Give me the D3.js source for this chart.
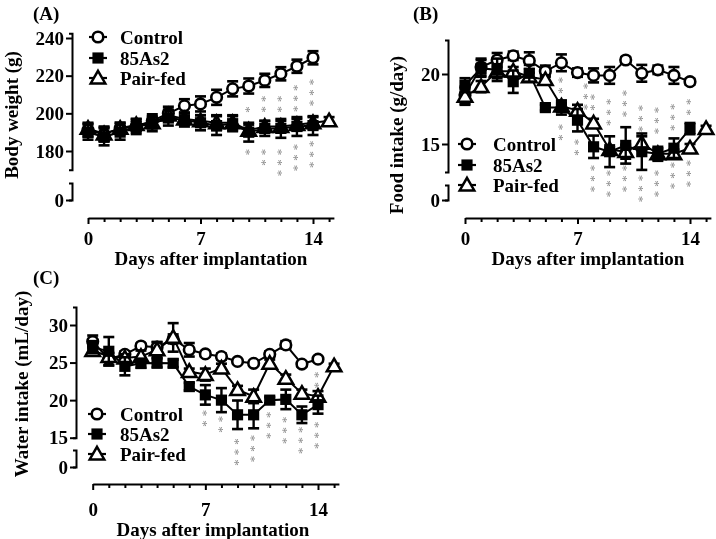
<!DOCTYPE html>
<html><head><meta charset="utf-8">
<script src="https://cdn.jsdelivr.net/npm/d3@7"></script>
<style>
body{margin:0;background:#fff}
svg{display:block;will-change:transform}
text{font-family:"Liberation Serif","Times New Roman",serif;font-weight:bold;fill:#000}
</style>
</head><body>
<svg id="chart" width="716" height="539"></svg>
<script>
// ---------- DATA ----------
const seriesNames = ["Control", "85As2", "Pair-fed"];
const xTickLabels = [0, 7, 14];
const xTickDays = [0,1,2,3,4,5,6,7,8,9,10,11,12,13,14,15];

// (A) Body weight (g)
const bwControl    = [191,189,192,193,196,200,204,205,208.5,213,214.5,217.5,221,225,229.5];
const bwControlErr = [3.5,3.5,3,3,3.5,3.5,3.5,4,4,4,4,3.5,3.5,3.5,3.5];
const bw85As2      = [190,187.5,190,193,194.5,197.5,196.5,195,193.5,194.5,190,192,192,193,193.5];
const bw85As2Err   = [4,4.5,4,4,4,4,3.5,4,5,4,5,4,5,5,5];
const bwPairFed    = [192,189,192,194,195,199,197,196,195,195,191,193,193,194,195,196];
const bwPairFedErr = [3,4,3,3,3,3,3,3,4,4,3,3,3,3,3,2];
const bwTicks = [180,200,220,240];
const bwStarsDay   = [10,10,11,11,12,12,13,13,14,14];
const bwStarsTop   = [202,179.5,207.8,179.5,207.8,179.5,213.6,182.1,216.6,183.9];
const bwStarsCount = [1,1,2,2,2,3,3,3,3,3];

// (B) Food intake (g/day)
const fiControl    = [18.5,20.5,21,21.3,20.95,20.2,20.8,20.1,19.9,19.9,21,20.05,20.3,19.9,19.45];
const fiControlErr = [0.6,0.6,0.5,0.3,0.6,0.4,0.6,0.3,0.5,0.6,0.2,0.6,0.3,0.6,0.2];
const fi85As2      = [19.2,20.4,20.3,19.45,20.05,17.6,17.6,16.7,14.8,14.45,14.9,14.45,14.3,14.7,16.1];
const fi85As2Err   = [0.5,0.6,0.8,0.8,0.6,0.2,0.5,0.8,0.8,1.1,1.3,1.3,0.5,0.7,0.4];
const fiPairFed    = [18.4,19.1,20.2,20.2,19.8,19.6,17.7,17.4,16.5,14.6,14.45,15.05,14.3,14.3,14.7,16.1];
const fiPairFedErr = [0.6,0.4,0.5,0.3,0.3,0.3,0.4,0.4,0.3,0.3,0.5,0.5,0.4,0.3,0.3,0.2];
const fiTicks = [15,20];
const fiStarsDay   = [6,6,7,7.55,8,8,9,9,10,10,11,11,12,12,13,13,14,14];
const fiStarsTop   = [19.57,16.21,15.14,19.14,18.36,13.29,18.02,12.93,18.64,13.29,17.57,12.57,17.43,12.93,17.66,13.5,18.02,13.64];
const fiStarsCount = [2,2,2,3,2,3,3,3,3,3,3,3,3,3,3,3,2,3];

// (C) Water intake (mL/day)
const wiControl    = [27.8,25.45,26.1,27.2,27.05,28.15,26.7,26.15,25.8,25.15,24.9,26.1,27.35,24.8,25.45];
const wiControlErr = [0.8,0.8,0.4,0.3,0.7,0.6,0.9,0.3,0.4,0.3,0.3,0.4,0.5,0.3,0.3];
const wi85As2      = [27.05,26.5,24.5,24.9,24.95,24.9,21.8,20.7,20.0,18.05,18.05,20.0,20.1,18.05,19.4];
const wi85As2Err   = [0.8,1.9,1.2,0.6,0.6,0.5,0.5,1.3,1.6,1.9,1.8,0.4,1.3,1.1,1.2];
const wiPairFed    = [26.6,25.8,25.6,25.8,26.7,28.35,23.8,23.4,24.25,21.4,20.5,24.9,22.9,20.9,20.5,24.55];
const wiPairFedErr = [0.6,0.5,0.5,0.8,1,1.9,0.4,0.8,0.6,0.5,0.9,0.5,0.5,0.5,0.7,0.3];
const wiTicks = [15,20,25,30];
const wiStarsDay   = [7,8,9,10,11,12,13,14,14];
const wiStarsTop   = [18.28,17.48,14.51,14.96,18.05,17.39,16.06,23.37,16.73];
const wiStarsCount = [2,2,3,3,3,3,3,2,3];

// ---------- DRAWING ----------
const svg = d3.select("#chart");

const panels = [
  { label:"(A)", labelPos:[33,20], yTitle:"Body weight (g)", yTitlePos:[18,115],
    xRange:[88,313], yDomain:[180,240], yRange:[151,38], yAxisX:72, yTop:242.5, yBottom:170,
    zeroSeg:[183,200], xAxisY:218, xLabelBase:245, xTitlePos:[211,265],
    ticks:bwTicks, ctrl:bwControl, ctrlE:bwControlErr, as2:bw85As2, as2E:bw85As2Err, pf:bwPairFed, pfE:bwPairFedErr,
    sDay:bwStarsDay, sTop:bwStarsTop, sCount:bwStarsCount,
    legend:{sx:98, tx:120, ys:[37,58,78]} },
  { label:"(B)", labelPos:[413,20], yTitle:"Food intake (g/day)", yTitlePos:[403,135],
    xRange:[465,690], yDomain:[15,20], yRange:[144,74], yAxisX:448, yTop:22.43, yBottom:13,
    zeroSeg:[185,200], xAxisY:218, xLabelBase:245, xTitlePos:[588,265],
    ticks:fiTicks, ctrl:fiControl, ctrlE:fiControlErr, as2:fi85As2, as2E:fi85As2Err, pf:fiPairFed, pfE:fiPairFedErr,
    sDay:fiStarsDay, sTop:fiStarsTop, sCount:fiStarsCount,
    legend:{sx:467, tx:493, ys:[144,165,185]} },
  { label:"(C)", labelPos:[33,284], yTitle:"Water intake (mL/day)", yTitlePos:[28,384],
    xRange:[92.7,318], yDomain:[15,30], yRange:[437.7,325], yAxisX:76, yTop:32.4, yBottom:15,
    zeroSeg:[450,467], xAxisY:484, xLabelBase:515.5, xTitlePos:[213,535.5],
    ticks:wiTicks, ctrl:wiControl, ctrlE:wiControlErr, as2:wi85As2, as2E:wi85As2Err, pf:wiPairFed, pfE:wiPairFedErr,
    sDay:wiStarsDay, sTop:wiStarsTop, sCount:wiStarsCount,
    legend:{sx:97, tx:120, ys:[414,434,454]} }
];

const FS = 19;
const STAR_FS = 13;
const triPath = d3.symbol().type(d3.symbolTriangle).size(92);
const sqPath = d3.symbol().type(d3.symbolSquare).size(125);

function drawMarker(g, type, cx, cy) {
  if (type === 0) {
    g.append("circle").attr("cx",cx).attr("cy",cy).attr("r",5.3)
      .attr("fill","#fff").attr("stroke","#000").attr("stroke-width",2.6);
  } else if (type === 1) {
    g.append("path").attr("d",sqPath()).attr("transform",`translate(${cx},${cy})`).attr("fill","#000");
  } else {
    g.append("path").attr("d",triPath()).attr("transform",`translate(${cx},${cy+1.2})`)
      .attr("fill","#fff").attr("stroke","#000").attr("stroke-width",2.5).attr("stroke-linejoin","miter");
  }
}

panels.forEach(p => {
  const g = svg.append("g");
  const x = d3.scaleLinear().domain([0,14]).range(p.xRange);
  const y = d3.scaleLinear().domain(p.yDomain).range(p.yRange);

  // panel label
  g.append("text").attr("x",p.labelPos[0]).attr("y",p.labelPos[1]).attr("font-size",FS).text(p.label);

  // y axis (main part)
  const yAx = y.copy().domain([p.yBottom, p.yTop]).range([y(p.yBottom), y(p.yTop)]);
  const yAxisG = g.append("g").attr("transform",`translate(${p.yAxisX},0)`)
    .call(d3.axisLeft(yAx).tickValues(p.ticks).tickSize(6).tickSizeOuter(3).tickPadding(2).tickFormat(d3.format("d")));
  // zero segment (axis break)
  const y0 = d3.scaleLinear().domain([0,1]).range([p.zeroSeg[1], p.zeroSeg[0]]);
  const zAxisG = g.append("g").attr("transform",`translate(${p.yAxisX},0)`)
    .call(d3.axisLeft(y0).tickValues([0]).tickSize(6).tickSizeOuter(3).tickPadding(2).tickFormat(d3.format("d")));

  // x axis
  const xAx = x.copy().domain([0,15.3]).range([x(0), x(15.3)]);
  const xAxisG = g.append("g").attr("transform",`translate(0,${p.xAxisY})`)
    .call(d3.axisBottom(xAx).tickValues(xTickDays).tickSize(5).tickSizeOuter(0)
      .tickFormat(d => xTickLabels.includes(d) ? d : ""));
  xAxisG.selectAll(".tick line").attr("y2", d => xTickLabels.includes(d) ? 6 : 4);

  [yAxisG, zAxisG, xAxisG].forEach(a => {
    a.selectAll("path,line").attr("stroke","#000").attr("stroke-width",2);
    a.selectAll("text").attr("font-size",FS).attr("font-family",null).attr("fill","#000");
  });
  xAxisG.selectAll(".tick text").attr("dy",null).attr("y", p.xLabelBase - p.xAxisY);

  // titles
  g.append("text").attr("text-anchor","middle")
    .attr("transform",`translate(${p.xTitlePos[0]},${p.xTitlePos[1]})`).attr("font-size",FS)
    .text("Days after implantation");
  g.append("text").attr("text-anchor","middle")
    .attr("transform",`translate(${p.yTitlePos[0]},${p.yTitlePos[1]}) rotate(-90)`).attr("font-size",FS)
    .text(p.yTitle);

  // series
  const series = [
    {vals:p.ctrl, err:p.ctrlE, type:0},
    {vals:p.pf,   err:p.pfE,   type:2},
    {vals:p.as2,  err:p.as2E,  type:1}
  ];
  const line = d3.line().x((d,i)=>x(i)).y(d=>y(d));
  series.forEach(s => {
    g.append("path").datum(s.vals).attr("d",line).attr("fill","none")
      .attr("stroke","#000").attr("stroke-width",2);
  });
  series.forEach(s => {
    const eg = g.append("g");
    s.vals.forEach((v,i) => {
      const e = s.err[i], cx = x(i);
      eg.append("line").attr("x1",cx).attr("x2",cx).attr("y1",y(v-e)).attr("y2",y(v+e))
        .attr("stroke","#000").attr("stroke-width",2.4);
      [v-e, v+e].forEach(w => eg.append("line").attr("x1",cx-5.5).attr("x2",cx+5.5)
        .attr("y1",y(w)).attr("y2",y(w)).attr("stroke","#000").attr("stroke-width",2.6));
    });
    s.vals.forEach((v,i) => drawMarker(g, s.type, x(i), y(v)));
  });

  // asterisks: one text per stacked group, laid out down the column
  const sg = g.append("g");
  p.sDay.forEach((d,k) => {
    sg.append("text")
      .attr("transform",`translate(${x(d) - 0.52*STAR_FS},${y(p.sTop[k]) - 0.25*STAR_FS}) rotate(90)`)
      .attr("font-size",STAR_FS).style("font-weight","normal").style("fill","#888")
      .style("letter-spacing","4px")
      .text("*".repeat(p.sCount[k]));
  });

  // legend
  seriesNames.forEach((name,i) => {
    const ly = p.legend.ys[i];
    g.append("line").attr("x1",p.legend.sx-9).attr("x2",p.legend.sx+9).attr("y1",ly).attr("y2",ly)
      .attr("stroke","#000").attr("stroke-width",2.2);
    drawMarker(g, i, p.legend.sx, ly);
    g.append("text").attr("x",p.legend.tx).attr("y",ly+6.5).attr("font-size",FS).text(name);
  });
});
</script>
</body></html>
